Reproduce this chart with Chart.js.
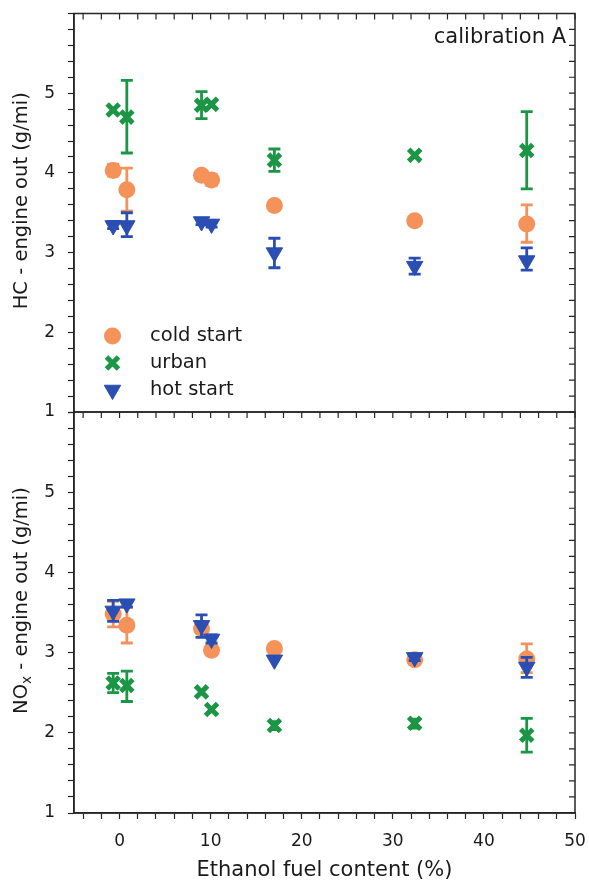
<!DOCTYPE html>
<html>
<head>
<meta charset="utf-8">
<script src="https://cdn.jsdelivr.net/npm/chart.js@4.4.0/dist/chart.umd.min.js"></script>
<style>
  body { margin: 0; background: #fff; }
  #wrap { position: relative; width: 589px; height: 883px; }
  canvas { position: absolute; left: 0; }
  #hc { top: 0; }
  #nox { top: 390px; }
</style>
</head>
<body>
<div id="wrap">
  <canvas id="hc" width="589" height="440"></canvas>
  <canvas id="nox" width="589" height="493"></canvas>
</div>
<script>
var fonte = "'DejaVu Sans', sans-serif";
var corTexto = '#1a1a1a';
var corEixo = '#262626';

// ethanol content of each fuel (%)
var ethanol = [-0.7, 0.8, 9.0, 10.1, 17.0, 32.4, 44.7];

// HC - engine out (g/mi), with error bar ends (null = no bar)
var hcCold    = [4.03, 3.79, 3.97, 3.91, 3.59, 3.40, 3.36];
var hcColdLo  = [3.96, 3.52, null, 3.84, null, null, 3.13];
var hcColdHi  = [4.11, 4.06, null, 3.98, null, null, 3.60];
var hcUrban   = [4.79, 4.70, 4.85, 4.86, 4.16, 4.22, 4.28];
var hcUrbanLo = [null, 4.25, 4.68, null, 4.02, null, 3.80];
var hcUrbanHi = [null, 5.16, 5.02, null, 4.30, null, 4.77];
var hcHot     = [3.34, 3.34, 3.39, 3.36, 3.00, 2.83, 2.90];
var hcHotLo   = [3.30, 3.20, 3.35, 3.32, 2.81, 2.73, 2.78];
var hcHotHi   = [3.39, 3.50, 3.42, 3.40, 3.18, 2.93, 3.06];

// NOx - engine out (g/mi)
var noxCold    = [3.48, 3.34, 3.30, 3.03, 3.05, 2.91, 2.92];
var noxColdLo  = [3.32, 3.12, null, null, null, null, 2.75];
var noxColdHi  = [3.64, 3.56, null, null, null, null, 3.11];
var noxUrban   = [2.62, 2.59, 2.51, 2.29, 2.09, 2.12, 1.97];
var noxUrbanLo = [2.50, 2.39, null, null, 2.04, 2.06, 1.76];
var noxUrbanHi = [2.74, 2.77, null, null, 2.14, 2.17, 2.18];
var noxHot     = [3.52, 3.61, 3.34, 3.17, 2.91, 2.94, 2.82];
var noxHotLo   = [3.39, 3.57, 3.19, 3.12, null, 2.90, 2.69];
var noxHotHi   = [3.65, 3.65, 3.47, 3.22, null, 2.98, 2.94];

var xRotulos = [0, 10, 20, 30, 40, 50];
var yRotulos = [1, 2, 3, 4, 5];

// minor tick positions
var xMarcas = [];
for (var v = -4; v <= 50; v += 2) xMarcas.push(v);
var yMarcas = [];
for (var i = 0; i <= 25; i++) yMarcas.push(Math.round((1 + i * 0.2) * 10) / 10);

var estilos = {
  cold:  {label: 'cold start', cor: '#f4925a', ponto: 'circle',   raio: 8.5, borda: 0,   rot: 0,   ordem: 3},
  urban: {label: 'urban',      cor: '#1b9645', ponto: 'crossRot', raio: 8.5, borda: 5,   rot: 0,   ordem: 2},
  hot:   {label: 'hot start',  cor: '#2a4eb2', ponto: 'triangle', raio: 9.5, borda: 1,   rot: 180, ordem: 1}
};

function serie(e, ys, lo, hi) {
  return {
    label: e.label,
    data: ethanol.map(function (x, i) { return {x: x, y: ys[i]}; }),
    errLo: lo,
    errHi: hi,
    showLine: false,
    pointStyle: e.ponto,
    pointRadius: e.raio,
    pointHoverRadius: e.raio,
    pointRotation: e.rot,
    pointBackgroundColor: e.cor,
    pointBorderColor: e.cor,
    pointBorderWidth: e.borda,
    backgroundColor: e.cor,
    borderColor: e.cor,
    order: e.ordem
  };
}

// vertical error bars, drawn just before each dataset's markers
var barrasErro = {
  id: 'barrasErro',
  beforeDatasetDraw: function (chart, args) {
    var ds = chart.data.datasets[args.index];
    if (!ds.errLo) return;
    var ctx = chart.ctx, sx = chart.scales.x, sy = chart.scales.y;
    ctx.save();
    ctx.strokeStyle = ds.borderColor;
    ctx.lineWidth = 2.8;
    ds.data.forEach(function (p, i) {
      if (ds.errLo[i] == null) return;
      var px = sx.getPixelForValue(p.x);
      var y1 = sy.getPixelForValue(ds.errLo[i]);
      var y2 = sy.getPixelForValue(ds.errHi[i]);
      ctx.beginPath();
      ctx.moveTo(px, y1); ctx.lineTo(px, y2);
      ctx.moveTo(px - 6, y1); ctx.lineTo(px + 6, y1);
      ctx.moveTo(px - 6, y2); ctx.lineTo(px + 6, y2);
      ctx.stroke();
    });
    ctx.restore();
  }
};

// box around the plot, inward ticks on right and top edges
var moldura = {
  id: 'moldura',
  afterDraw: function (chart) {
    var ctx = chart.ctx, a = chart.chartArea, sx = chart.scales.x, sy = chart.scales.y;
    ctx.save();
    ctx.strokeStyle = corEixo;
    ctx.lineWidth = 1.5;
    ctx.strokeRect(a.left, a.top, a.right - a.left, a.bottom - a.top);
    ctx.lineWidth = 1.2;
    ctx.beginPath();
    sy.ticks.forEach(function (t) {
      var py = sy.getPixelForValue(t.value);
      ctx.moveTo(a.right, py); ctx.lineTo(a.right - 6, py);
    });
    sx.ticks.forEach(function (t) {
      var px = sx.getPixelForValue(t.value);
      ctx.moveTo(px, a.top); ctx.lineTo(px, a.top + 6);
    });
    ctx.stroke();
    ctx.restore();
  }
};

// rotated y title (drawn here so the NOx subscript can be set)
var tituloY = {
  id: 'tituloY',
  afterDraw: function (chart, args, opts) {
    var ctx = chart.ctx, a = chart.chartArea;
    var tam = 19.5, sub = 13.5;
    ctx.save();
    ctx.translate(26.7, (a.top + a.bottom) / 2 - 12);
    ctx.rotate(-Math.PI / 2);
    ctx.fillStyle = corTexto;
    ctx.textBaseline = 'alphabetic';
    ctx.textAlign = 'left';
    var total = 0;
    opts.partes.forEach(function (p) {
      ctx.font = (p.sub ? sub : tam) + 'px ' + fonte;
      total += ctx.measureText(p.t).width;
    });
    var x = -total / 2;
    opts.partes.forEach(function (p) {
      ctx.font = (p.sub ? sub : tam) + 'px ' + fonte;
      ctx.fillText(p.t, x, p.sub ? 4 : 0);
      x += ctx.measureText(p.t).width;
    });
    ctx.restore();
  }
};

// legend inside the plot + panel label
var legendaInterna = {
  id: 'legendaInterna',
  afterDraw: function (chart, args, opts) {
    var ctx = chart.ctx, a = chart.chartArea;
    ctx.save();
    if (opts.legenda) {
      chart.data.datasets.forEach(function (ds, i) {
        var y = a.bottom - 76 + i * 27;
        ctx.fillStyle = ds.pointBackgroundColor;
        ctx.strokeStyle = ds.pointBorderColor;
        ctx.lineWidth = ds.pointBorderWidth;
        Chart.helpers.drawPoint(ctx, {
          pointStyle: ds.pointStyle, rotation: ds.pointRotation,
          radius: ds.pointRadius, borderWidth: ds.pointBorderWidth
        }, a.left + 38.5, y);
        ctx.fillStyle = corTexto;
        ctx.font = '19.5px ' + fonte;
        ctx.textAlign = 'left';
        ctx.textBaseline = 'middle';
        ctx.fillText(ds.label, a.left + 76, y);
      });
    }
    if (opts.rotulo) {
      ctx.fillStyle = corTexto;
      ctx.font = '21px ' + fonte;
      ctx.textAlign = 'right';
      ctx.textBaseline = 'alphabetic';
      ctx.fillText(opts.rotulo, a.right - 9, a.top + 29);
    }
    ctx.restore();
  }
};

function criaPainel(id, series, cfg) {
  var ctx = document.getElementById(id).getContext('2d');
  return new Chart(ctx, {
    type: 'scatter',
    data: { datasets: series },
    plugins: [barrasErro, moldura, tituloY, legendaInterna],
    options: {
      responsive: false,
      animation: false,
      events: [],
      layout: { padding: cfg.padding },
      plugins: {
        legend: { display: false },
        tooltip: { enabled: false },
        tituloY: { partes: cfg.titulo },
        legendaInterna: { legenda: cfg.legenda, rotulo: cfg.rotulo }
      },
      scales: {
        x: {
          type: 'linear', min: -5, max: 50,
          afterBuildTicks: function (s) { s.ticks = xMarcas.map(function (v) { return {value: v}; }); },
          afterFit: function (s) {
            s.height = cfg.eixoX ? 70 : 0;
            s.paddingLeft = 0; s.paddingRight = 0;
          },
          ticks: {
            display: cfg.eixoX, autoSkip: false, maxRotation: 0, padding: 12,
            color: corTexto, font: {family: fonte, size: 17},
            callback: function (v) { return xRotulos.indexOf(v) >= 0 ? String(v) : ''; }
          },
          grid: { display: cfg.eixoX, drawOnChartArea: false, tickLength: 6, tickWidth: 1.2, tickColor: corEixo },
          border: { display: cfg.eixoX, color: corEixo, width: 1.5 },
          title: {
            display: cfg.eixoX, text: 'Ethanol fuel content (%)', color: corTexto,
            font: {family: fonte, size: 21}, padding: {top: 0, bottom: 0}
          }
        },
        y: {
          type: 'linear', min: 1, max: 6,
          afterBuildTicks: function (s) { s.ticks = yMarcas.map(function (v) { return {value: v}; }); },
          afterFit: function (s) {
            s.width = 74;
            s.paddingTop = 0; s.paddingBottom = 0;
          },
          ticks: {
            autoSkip: false, padding: 13, color: corTexto, font: {family: fonte, size: 17},
            callback: function (v) { return yRotulos.indexOf(v) >= 0 ? String(v) : ''; }
          },
          grid: { drawOnChartArea: false, tickLength: 6, tickWidth: 1.2, tickColor: corEixo },
          border: { color: corEixo, width: 1.5 }
        }
      }
    }
  });
}

criaPainel('hc', [
  serie(estilos.cold, hcCold, hcColdLo, hcColdHi),
  serie(estilos.urban, hcUrban, hcUrbanLo, hcUrbanHi),
  serie(estilos.hot, hcHot, hcHotLo, hcHotHi)
], {
  padding: {top: 12, right: 14, bottom: 28, left: 0},
  titulo: [{t: 'HC - engine out (g/mi)'}],
  legenda: true,
  rotulo: 'calibration A',
  eixoX: false
});

criaPainel('nox', [
  serie(estilos.cold, noxCold, noxColdLo, noxColdHi),
  serie(estilos.urban, noxUrban, noxUrbanLo, noxUrbanHi),
  serie(estilos.hot, noxHot, noxHotLo, noxHotHi)
], {
  padding: {top: 22, right: 14, bottom: 0, left: 0},
  titulo: [{t: 'NO'}, {t: 'x', sub: true}, {t: ' - engine out (g/mi)'}],
  legenda: false,
  rotulo: null,
  eixoX: true
});
</script>
</body>
</html>
